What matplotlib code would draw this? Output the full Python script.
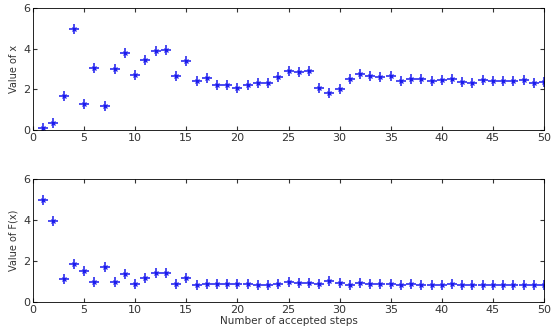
import numpy as np
import matplotlib.pyplot as plt

steps = np.arange(1, 51)

x_values = [0.08, 0.35, 1.65, 4.95, 1.3, 3.05, 1.2, 3.0, 3.8, 2.7,
            3.42, 3.9, 3.95, 2.65, 3.4, 2.42, 2.58, 2.2, 2.2, 2.05,
            2.2, 2.3, 2.3, 2.6, 2.9, 2.87, 2.9, 2.08, 1.8, 2.0,
            2.5, 2.75, 2.65, 2.62, 2.65, 2.4, 2.52, 2.52, 2.39, 2.47,
            2.52, 2.36, 2.33, 2.44, 2.41, 2.41, 2.41, 2.44, 2.31, 2.36]

f_values = [4.96, 3.96, 1.1, 1.83, 1.53, 1.0, 1.7, 1.0, 1.37, 0.88,
            1.17, 1.42, 1.42, 0.88, 1.17, 0.83, 0.88, 0.88, 0.88, 0.88,
            0.88, 0.83, 0.83, 0.88, 0.98, 0.95, 0.95, 0.86, 1.03, 0.91,
            0.82, 0.91, 0.86, 0.86, 0.86, 0.82, 0.88, 0.82, 0.82, 0.82,
            0.86, 0.82, 0.82, 0.82, 0.82, 0.82, 0.82, 0.82, 0.82, 0.82]

plt.rcParams['font.family'] = 'DejaVu Sans'

fig = plt.figure(figsize=(5.53, 3.3), dpi=100)
ax1 = fig.add_axes([33 / 553, 1 - 130 / 330, 511 / 553, 122 / 330])
ax2 = fig.add_axes([33 / 553, 1 - 302 / 330, 511 / 553, 123 / 330])

blue = '#1a1aee'
for ax, vals, label in [(ax1, x_values, 'Value of x'), (ax2, f_values, 'Value of F(x)')]:
    # matlab-style asterisk: plus with short diagonals
    ax.plot(steps, vals, linestyle='none', marker='+', markersize=7,
            color=blue, markeredgewidth=1.1)
    ax.plot(steps, vals, linestyle='none', marker='x', markersize=3.5,
            color=blue, markeredgewidth=0.9)
    ax.set_xlim(0, 50)
    ax.set_ylim(0, 6)
    ax.set_xticks(range(0, 51, 5))
    ax.set_yticks([0, 2, 4, 6])
    ax.tick_params(direction='in', top=True, right=True, length=3,
                   labelsize=8, colors='#333333', pad=2)
    ax.set_ylabel(label, fontsize=7, labelpad=3, color='#333333')
    for s in ax.spines.values():
        s.set_linewidth(0.6)

ax2.set_xlabel('Number of accepted steps', fontsize=7.5, labelpad=1, color='#333333')

fig.savefig('out.png', dpi=100)
